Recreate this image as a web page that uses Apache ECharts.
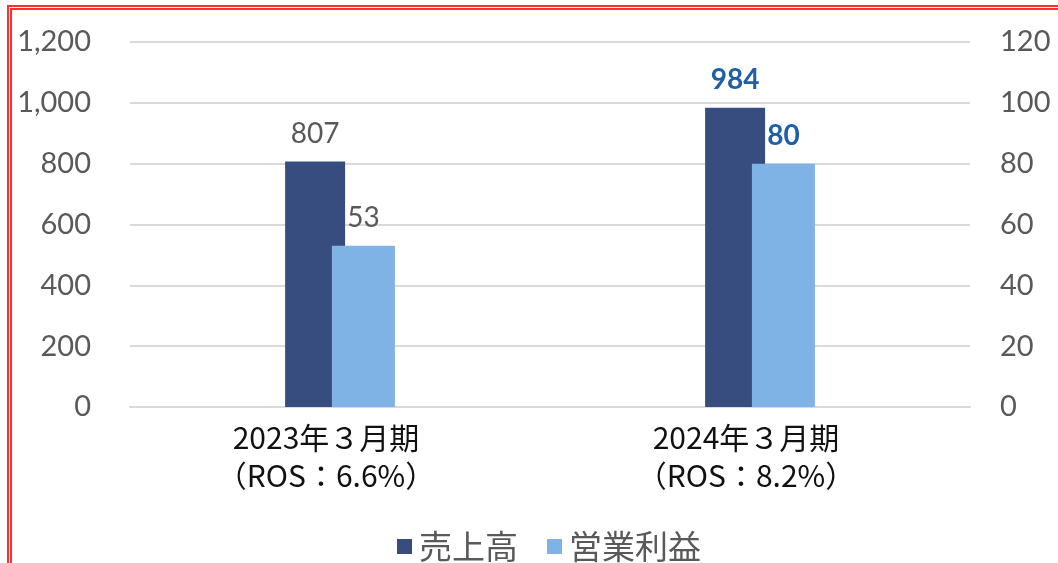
<!DOCTYPE html>
<html>
<head>
<meta charset="utf-8">
<script src="https://cdn.jsdelivr.net/npm/echarts@6/dist/echarts.min.js"></script>
<style>
  html, body { margin: 0; padding: 0; background: #fff; overflow: hidden; }
  #main { position: absolute; left: 0; top: 0; width: 1058px; height: 563px; }
  #frame {
    position: absolute; left: 7px; top: 5px; width: 1100px; height: 620px;
    border: 5px double #ff2e2e; pointer-events: none;
  }
</style>
</head>
<body>
<div id="main"></div>
<div id="frame"></div>
<script>
// 期
var categories = ['2023年３月期\n（ROS：6.6%）', '2024年３月期\n（ROS：8.2%）'];
// 売上高（左軸）
var sales = [807, 984];
// 営業利益（右軸）
var profit = [53, 80];

var labelFont = 'Lato, "Noto Sans CJK JP", sans-serif';
var normalLabel = { color: '#595959', fontSize: 28, fontWeight: 'normal' };
var boldLabel = { color: '#1f5fa6', fontSize: 28, fontWeight: 'bold' };

var myChart = echarts.init(document.getElementById('main'));
var option = {
  animation: false,
  textStyle: { fontFamily: labelFont },
  grid: { left: 130, right: 88, top: 42, bottom: 156 },
  legend: {
    bottom: -5,
    left: 392,
    itemWidth: 15,
    itemHeight: 15,
    itemGap: 29,
    icon: 'rect',
    textStyle: { color: '#595959', fontSize: 33, padding: [0, 0, 0, 2], fontFamily: '"Noto Sans CJK JP", sans-serif' },
    data: ['売上高', '営業利益']
  },
  xAxis: {
    type: 'category',
    data: categories,
    axisTick: { show: false },
    axisLine: { lineStyle: { color: '#d9d9d9', width: 2 } },
    axisLabel: {
      color: '#111',
      fontSize: 30,
      lineHeight: 38,
      margin: 12,
      padding: [0, 28, 0, 0],
      fontFamily: '"Noto Sans CJK JP", sans-serif'
    }
  },
  yAxis: [
    {
      type: 'value', min: 0, max: 1200, interval: 200,
      axisLine: { show: false },
      axisTick: { show: false },
      splitLine: { lineStyle: { color: '#d9d9d9', width: 2 } },
      axisLabel: {
        color: '#595959', fontSize: 29, margin: 39,
        formatter: function (v) { return v.toLocaleString('en-US'); }
      }
    },
    {
      type: 'value', min: 0, max: 120, interval: 20,
      axisLine: { show: false },
      axisTick: { show: false },
      splitLine: { show: false },
      axisLabel: { color: '#595959', fontSize: 29, margin: 30 }
    }
  ],
  series: [
    {
      name: '売上高',
      type: 'bar',
      yAxisIndex: 0,
      barWidth: 60,
      barGap: '-22%',
      itemStyle: { color: '#374c7f' },
      label: { show: true, position: 'top', distance: 14 },
      data: sales.map(function (v, i) {
        return { value: v, label: i === 1 ? boldLabel : normalLabel };
      })
    },
    {
      name: '営業利益',
      type: 'bar',
      yAxisIndex: 1,
      barWidth: 63,
      itemStyle: { color: '#7fb2e5' },
      label: { show: true, position: 'top', distance: 14 },
      data: profit.map(function (v, i) {
        return { value: v, label: i === 1 ? boldLabel : normalLabel };
      })
    }
  ]
};
myChart.setOption(option);
</script>
</body>
</html>
